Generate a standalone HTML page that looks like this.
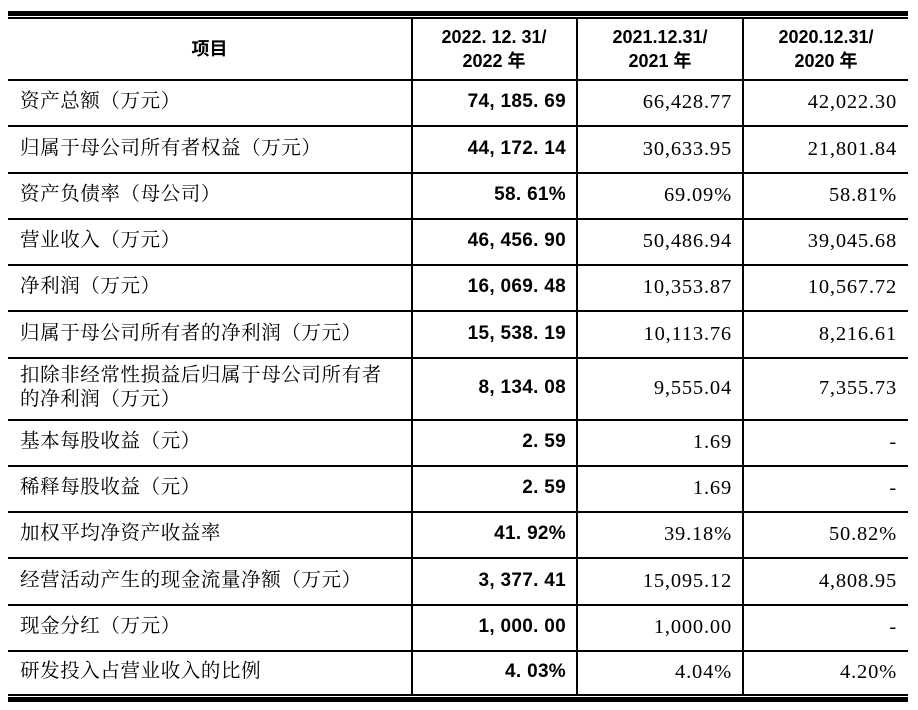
<!DOCTYPE html>
<html><head><meta charset="utf-8"><style>
body{margin:0;width:918px;height:710px;background:#fff;position:relative;overflow:hidden;font-family:"Liberation Serif","Noto Serif CJK SC",serif;color:#000}
.h{position:absolute;left:8px;width:900px;background:#000}
.v{position:absolute;width:1.5px;background:#000;top:18px;height:677px}
.c{position:absolute;display:flex;align-items:center;font-size:20px;line-height:24px;white-space:nowrap}
.l{left:20px;width:385px;font-size:19.5px;letter-spacing:0.6px}
.b{left:412px;width:154px;justify-content:flex-end;font-family:"Liberation Sans","Noto Sans CJK SC",sans-serif;font-weight:bold;font-size:19px;letter-spacing:0.3px}
.m{left:578px;width:154px;justify-content:flex-end;font-size:20.5px;letter-spacing:0.8px}
.r{left:744px;width:153px;justify-content:flex-end;font-size:20.5px;letter-spacing:0.8px}
.hd{position:absolute;top:18px;height:61px;display:flex;align-items:center;justify-content:center;text-align:center;font-family:"Liberation Sans","Noto Sans CJK SC",sans-serif;font-weight:bold;font-size:18px;line-height:24px}
</style></head><body>
<div class="h" style="top:11px;height:5px"></div>
<div class="h" style="top:17px;height:1.5px"></div>
<div class="h" style="top:694px;height:1.5px"></div>
<div class="h" style="top:697px;height:5px"></div>
<div class="v" style="left:411px"></div>
<div class="v" style="left:576px"></div>
<div class="v" style="left:742px"></div>
<div class="hd" style="left:8px;width:403px">项目</div>
<div class="hd" style="left:412px;width:164px">2022. 12. 31/<br>2022 年</div>
<div class="hd" style="left:578px;width:164px">2021.12.31/<br>2021 年</div>
<div class="hd" style="left:744px;width:164px">2020.12.31/<br>2020 年</div>
<div id="t"></div>
<script>
const labels=["资产总额（万元）","归属于母公司所有者权益（万元）","资产负债率（母公司）","营业收入（万元）","净利润（万元）","归属于母公司所有者的净利润（万元）","扣除非经常性损益后归属于母公司所有者<br>的净利润（万元）","基本每股收益（元）","稀释每股收益（元）","加权平均净资产收益率","经营活动产生的现金流量净额（万元）","现金分红（万元）","研发投入占营业收入的比例"];
const v2022=["74, 185. 69","44, 172. 14","58. 61%","46, 456. 90","16, 069. 48","15, 538. 19","8, 134. 08","2. 59","2. 59","41. 92%","3, 377. 41","1, 000. 00","4. 03%"];
const v2021=["66,428.77","30,633.95","69.09%","50,486.94","10,353.87","10,113.76","9,555.04","1.69","1.69","39.18%","15,095.12","1,000.00","4.04%"];
const v2020=["42,022.30","21,801.84","58.81%","39,045.68","10,567.72","8,216.61","7,355.73","-","-","50.82%","4,808.95","-","4.20%"];
const bounds=[79,125,172,218,264,310,357,419,465,511,557,604,650,694];
const t=document.getElementById('t');
for(let i=0;i<labels.length;i++){
  const top=bounds[i],h=bounds[i+1]-bounds[i];
  const ln=document.createElement('div');ln.className='h';ln.style.top=top+'px';ln.style.height='1.5px';
  
  
  t.appendChild(ln);
  const cells=[['l',labels[i],'row-label'],['b',v2022[i],'value-2022'],['m',v2021[i],'value-2021'],['r',v2020[i],'value-2020']];
  for(const [cls,txt,nm] of cells){
    const d=document.createElement('div');d.className='c '+cls;d.style.top=top+'px';d.style.height=h+'px';d.innerHTML=txt;
    
    
    t.appendChild(d);
  }
}
</script>
</body></html>
